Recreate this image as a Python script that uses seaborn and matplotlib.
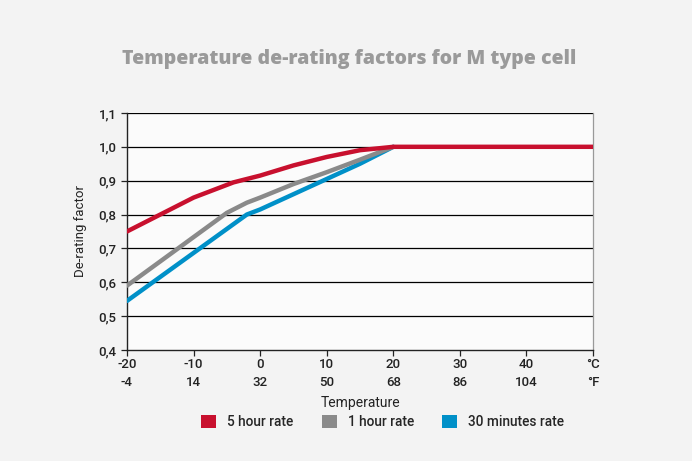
import pandas as pd
import seaborn as sns
import matplotlib.pyplot as plt
from matplotlib.patches import Patch

# temperature (°C) and de-rating factor per discharge rate
temp_5h = [-20, -15, -10, -4, 0, 5, 10, 15, 20, 50]
factor_5h = [0.75, 0.80, 0.85, 0.895, 0.915, 0.945, 0.97, 0.99, 1.0, 1.0]
temp_1h = [-20, -5, -2, 0, 5, 10, 15, 20]
factor_1h = [0.59, 0.805, 0.835, 0.85, 0.89, 0.925, 0.962, 1.0]
temp_30m = [-20, -2, 0, 5, 10, 15, 20]
factor_30m = [0.545, 0.80, 0.815, 0.86, 0.905, 0.95, 1.0]

celsius_ticks = [-20, -10, 0, 10, 20, 30, 40, 50]
celsius_labels = ['-20', '-10', '0', '10', '20', '30', '40', '°C']
fahrenheit_labels = ['-4', '14', '32', '50', '68', '86', '104', '°F']
y_ticks = [0.4, 0.5, 0.6, 0.7, 0.8, 0.9, 1.0, 1.1]

series = ['5 hour rate', '1 hour rate', '30 minutes rate']
colors = ['#c8102e', '#8a8a8a', '#0090c8']

df = pd.concat([
    pd.DataFrame({'temp': temp_5h, 'factor': factor_5h, 'rate': series[0]}),
    pd.DataFrame({'temp': temp_1h, 'factor': factor_1h, 'rate': series[1]}),
    pd.DataFrame({'temp': temp_30m, 'factor': factor_30m, 'rate': series[2]}),
])

sns.set_style('white')
plt.rcParams['font.family'] = ['Roboto', 'DejaVu Sans']
plt.rcParams['font.weight'] = 'medium'

fig = plt.figure(figsize=(6.92, 4.61), dpi=100, facecolor='#f3f3f3')
ax = fig.add_axes([0.1835, 0.2408, 0.6735, 0.5142])
ax.set_facecolor('#fbfbfb')

# grid first so the curves sit on top
for y in y_ticks[1:]:
    ax.axhline(y, color='black', lw=0.9, zorder=1)

# draw red last so it covers the others at the top
for name, z in [(series[2], 3), (series[1], 4), (series[0], 5)]:
    sns.lineplot(data=df[df['rate'] == name], x='temp', y='factor',
                 color=colors[series.index(name)], lw=3.2, ax=ax,
                 zorder=z, estimator=None, sort=False)

ax.set_xlim(-20, 50)
ax.set_ylim(0.4, 1.1)
ax.set_xticks(celsius_ticks)
ax.set_xticklabels([c + '\n' + f for c, f in zip(celsius_labels, fahrenheit_labels)],
                   linespacing=1.45)
ax.set_yticks(y_ticks)
ax.set_yticklabels([f'{v:.1f}'.replace('.', ',') for v in y_ticks])
ax.tick_params(axis='both', labelsize=9.5, colors='#222222', length=4,
               width=0.9, direction='out', bottom=True, left=True)
ax.tick_params(axis='x', pad=2)

for side in ['left', 'bottom']:
    ax.spines[side].set_color('#222222')
    ax.spines[side].set_linewidth(1.0)
ax.spines['top'].set_visible(False)
ax.spines['right'].set_color('#999999')
ax.spines['right'].set_linewidth(0.9)

ax.set_xlabel('Temperature', fontsize=10, color='#222222', labelpad=5)
ax.set_ylabel('De-rating factor', fontsize=9.5, color='#222222', labelpad=8)

fig.text(0.505, 0.872, 'Temperature de-rating factors for M type cell',
         ha='center', va='center', fontsize=14, fontweight='heavy',
         color='#9a9a9a', family=['Open Sans', 'DejaVu Sans'])

handles = [Patch(facecolor=c, edgecolor='none') for c in colors]
fig.legend(handles, series, loc='center', bbox_to_anchor=(0.553, 0.085), ncol=3,
           frameon=False, fontsize=9.8, handlelength=1.1, handleheight=1.1,
           columnspacing=2.1, handletextpad=0.8)

plt.savefig('out.png', dpi=100, facecolor=fig.get_facecolor())
